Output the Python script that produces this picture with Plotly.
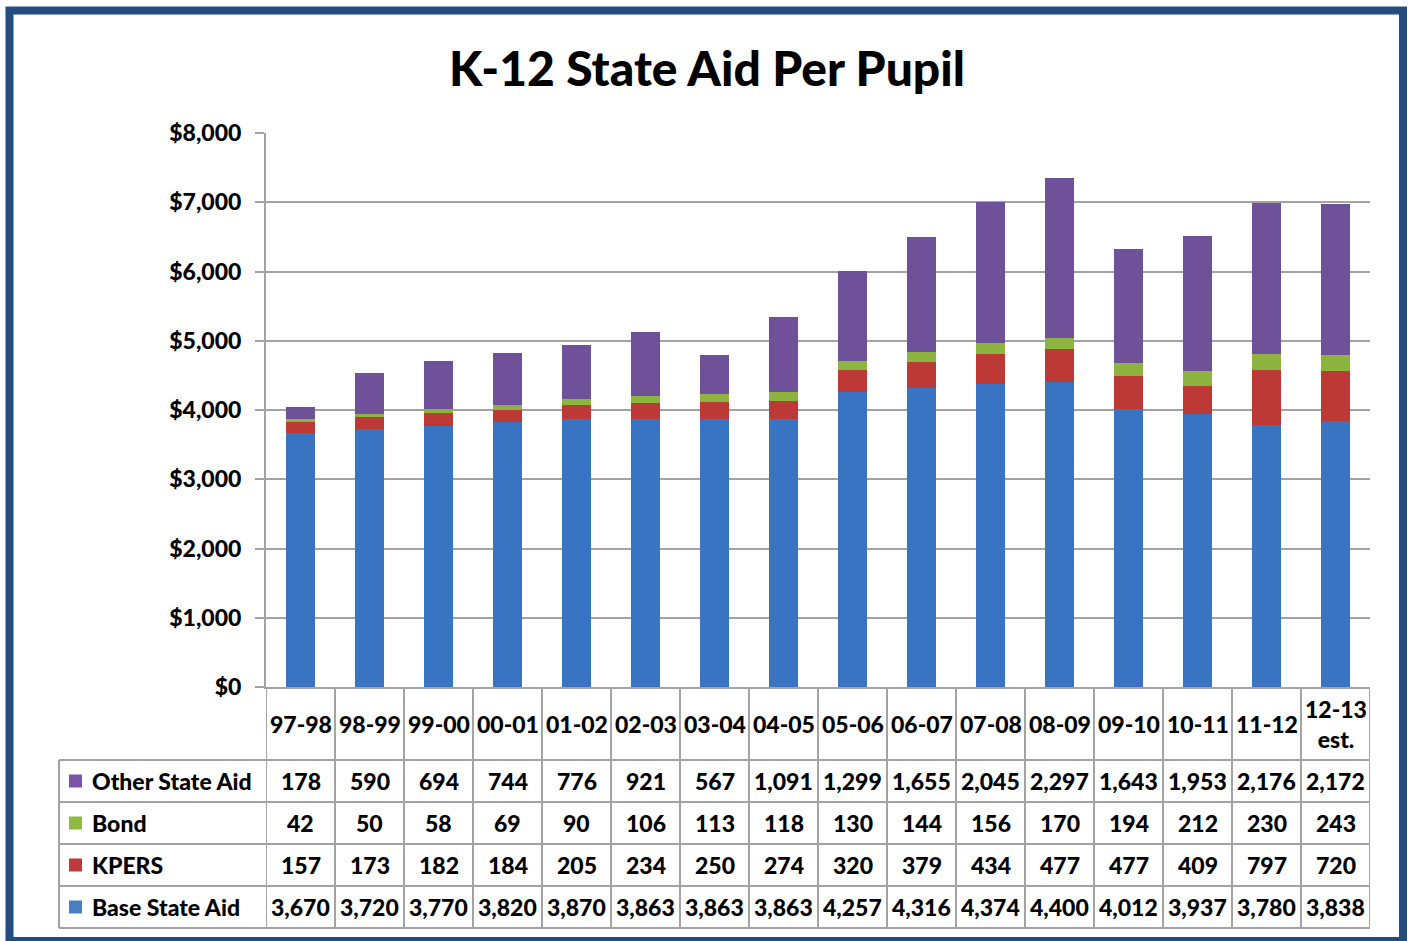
import plotly.graph_objects as go

categories = ["97-98", "98-99", "99-00", "00-01", "01-02", "02-03", "03-04", "04-05",
              "05-06", "06-07", "07-08", "08-09", "09-10", "10-11", "11-12", "12-13 est."]
header_labels = ["97-98", "98-99", "99-00", "00-01", "01-02", "02-03", "03-04", "04-05",
                 "05-06", "06-07", "07-08", "08-09", "09-10", "10-11", "11-12", "12-13<br>est."]
base_state_aid = [3670, 3720, 3770, 3820, 3870, 3863, 3863, 3863, 4257, 4316, 4374, 4400, 4012, 3937, 3780, 3838]
kpers = [157, 173, 182, 184, 205, 234, 250, 274, 320, 379, 434, 477, 477, 409, 797, 720]
bond = [42, 50, 58, 69, 90, 106, 113, 118, 130, 144, 156, 170, 194, 212, 230, 243]
other_state_aid = [178, 590, 694, 744, 776, 921, 567, 1091, 1299, 1655, 2045, 2297, 1643, 1953, 2176, 2172]

series = [
    ("Base State Aid", base_state_aid, "#3874C2", "#4A7EC4"),
    ("KPERS", kpers, "#BD3936", "#C0393B"),
    ("Bond", bond, "#8DB43E", "#8FBB3F"),
    ("Other State Aid", other_state_aid, "#6F519A", "#7A55A6"),
]
table_order = ["Other State Aid", "Bond", "KPERS", "Base State Aid"]

W, H = 1410, 941
L, R, T, B = 266, 1370, 133, 687
PW, PH = R - L, B - T

def px(x):
    return (x - L) / PW

def py(y):
    return (B - y) / PH

FONT = "Lato, 'Open Sans', sans-serif"
GRID = "#A3A3A3"
TF = dict(family=FONT, size=23, color="black", weight=900)

fig = go.Figure()
for name, vals, col, _ in series:
    fig.add_trace(go.Bar(x=categories, y=vals, name=name, marker=dict(color=col, line=dict(width=0))))

shapes = []
annotations = []

n = len(categories)
row_lines = [760, 802, 844, 886, 928]
for i in range(n + 1):
    shapes.append(dict(type="line", xref="x", yref="paper", x0=i - 0.5, x1=i - 0.5,
                       y0=py(B), y1=py(row_lines[-1]), line=dict(color=GRID, width=2)))
for yl in row_lines:
    shapes.append(dict(type="line", xref="paper", yref="paper", x0=px(59), x1=px(R),
                       y0=py(yl), y1=py(yl), line=dict(color=GRID, width=2)))
shapes.append(dict(type="line", xref="paper", yref="paper", x0=px(59), x1=px(59),
                   y0=py(row_lines[0]), y1=py(row_lines[-1]), line=dict(color=GRID, width=2)))

for i, lab in enumerate(header_labels):
    annotations.append(dict(xref="x", yref="paper", x=categories[i], y=py((B + row_lines[0]) / 2),
                            text=lab, showarrow=False, font=TF,
                            xanchor="center", yanchor="middle"))

colmap = {s[0]: s for s in series}
for r, name in enumerate(table_order):
    _, vals, col, legcol = colmap[name]
    yc = (row_lines[r] + row_lines[r + 1]) / 2
    shapes.append(dict(type="rect", xref="paper", yref="paper", x0=px(69), x1=px(82),
                       y0=py(yc - 6.5), y1=py(yc + 6.5), fillcolor=legcol, line=dict(width=0)))
    annotations.append(dict(xref="paper", yref="paper", x=px(90), y=py(yc),
                            text=name, showarrow=False, font=TF,
                            xanchor="left", yanchor="middle"))
    for i, v in enumerate(vals):
        annotations.append(dict(xref="x", yref="paper", x=categories[i], y=py(yc),
                                text=f"{v:,}", showarrow=False, font=TF,
                                xanchor="center", yanchor="middle"))

shapes.append(dict(type="rect", xref="paper", yref="paper", x0=px(9.5), x1=px(1403),
                   y0=py(941), y1=py(10.5), line=dict(color="#244C7E", width=8), layer="above"))

annotations.append(dict(xref="paper", yref="paper", x=px(707), y=py(67),
                        text="K-12 State Aid Per Pupil", showarrow=False,
                        font=dict(family=FONT, size=48, color="black", weight=900),
                        xanchor="center", yanchor="middle"))

fig.update_layout(
    width=W, height=H,
    margin=dict(l=L, r=W - R, t=T, b=H - B),
    barmode="stack", bargap=0.59,
    showlegend=False,
    plot_bgcolor="white", paper_bgcolor="white",
    shapes=shapes, annotations=annotations,
    xaxis=dict(type="category", showticklabels=False, showgrid=False, ticks="",
               showline=True, linecolor=GRID, linewidth=2, range=[-0.5, n - 0.5]),
    yaxis=dict(range=[0, 8000], dtick=1000, tickprefix="$", tickformat=",",
               showgrid=True, gridcolor=GRID, gridwidth=2, zeroline=False,
               showline=True, linecolor=GRID, linewidth=2,
               ticks="outside", ticklen=9, tickcolor=GRID, tickwidth=2,
               ticklabelstandoff=9,
               tickfont=dict(family=FONT, size=23, color="black", weight=900)),
)

fig.write_html("out.html", config={"displayModeBar": False},
               post_script="document.body.style.margin='0px';")
